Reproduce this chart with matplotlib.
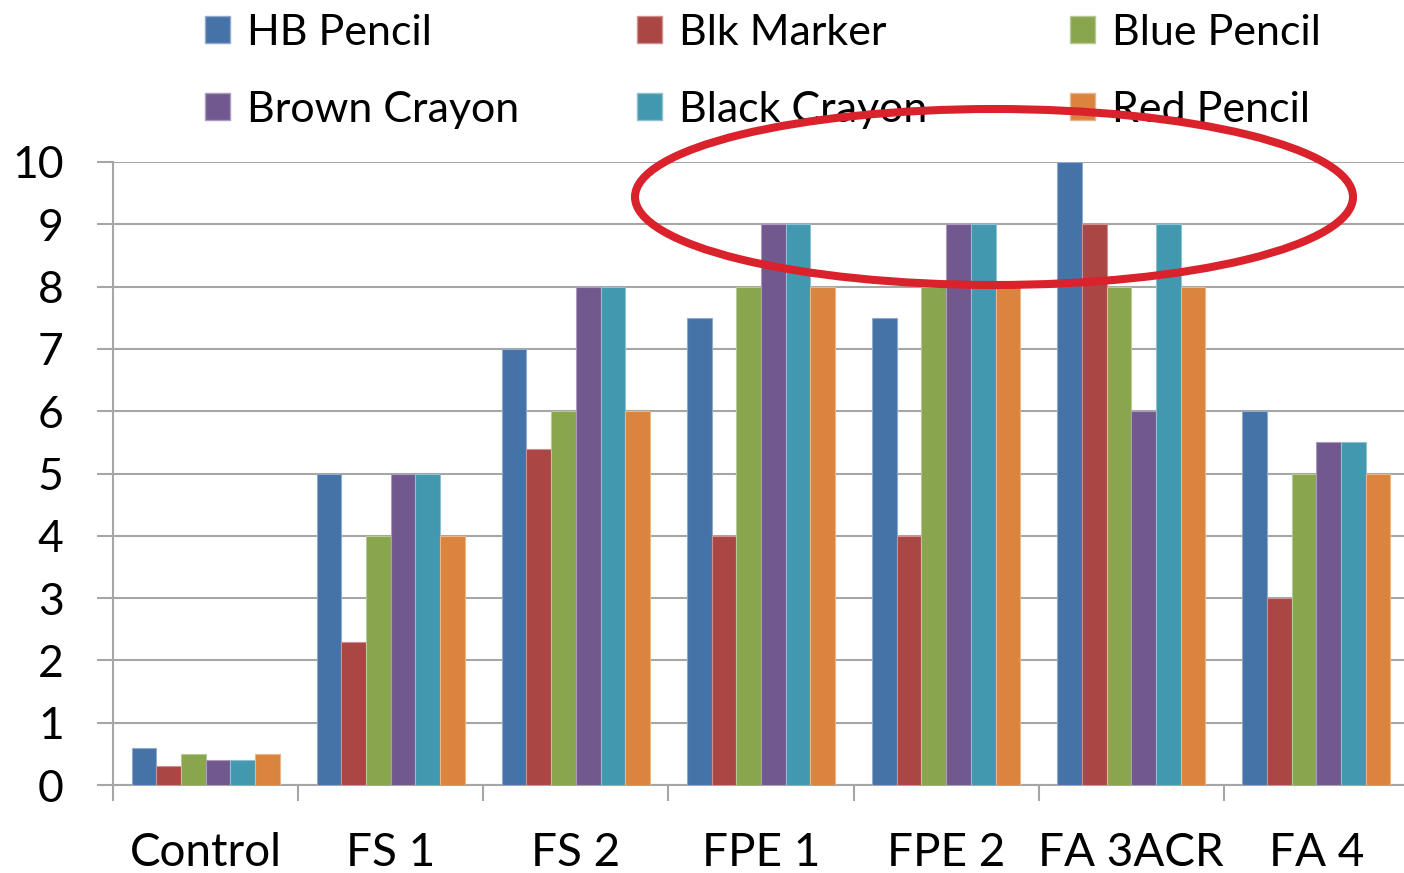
import numpy as np
import matplotlib
matplotlib.use("Agg")
import matplotlib.pyplot as plt
from matplotlib.patches import Patch, Ellipse
from matplotlib.colors import to_rgb

plt.rcParams['font.family'] = ['Lato', 'DejaVu Sans']

# data
groups = ["Control", "FS 1", "FS 2", "FPE 1", "FPE 2", "FA 3ACR", "FA 4"]
series = ["HB Pencil", "Blk Marker", "Blue Pencil",
          "Brown Crayon", "Black Crayon", "Red Pencil"]
hb_pencil = [0.6, 5, 7, 7.5, 7.5, 10, 6]
blk_marker = [0.3, 2.3, 5.4, 4, 4, 9, 3]
blue_pencil = [0.5, 4, 6, 8, 8, 8, 5]
brown_crayon = [0.4, 5, 8, 9, 9, 6, 5.5]
black_crayon = [0.4, 5, 8, 9, 9, 9, 5.5]
red_pencil = [0.5, 4, 6, 8, 8, 8, 5]
values = [hb_pencil, blk_marker, blue_pencil, brown_crayon, black_crayon, red_pencil]
colors = ["#4572a7", "#aa4643", "#89a54e", "#71588f", "#4198af", "#db843d"]

W, H = 1404, 873
fig = plt.figure(figsize=(W / 100, H / 100), dpi=100)
ax = fig.add_axes([113 / W, 88 / H, 1296 / W, 623 / H])


def lighter(c):
    return tuple(0.6 * np.array(to_rgb(c)) + 0.4)


x = np.arange(len(groups))
n = len(series)
bw = 0.8 / n
for i, (name, vals, c) in enumerate(zip(series, values, colors)):
    ax.bar(x - 0.4 + bw * (i + 0.5), vals, width=bw, color=c,
           edgecolor=lighter(c), linewidth=0.8, label=name, zorder=3)

grid_c = "#a6a6a6"
ax.set_xlim(-0.5, len(groups) - 0.5)
ax.set_ylim(0, 10)
ax.set_yticks(range(0, 11))
ax.yaxis.grid(True, color=grid_c, linewidth=1.5, zorder=0)
ax.set_axisbelow(True)
for s in ["top", "right"]:
    ax.spines[s].set_visible(False)
for s in ["left", "bottom"]:
    ax.spines[s].set_color(grid_c)
    ax.spines[s].set_linewidth(1.5)

ax.set_xticks(x)
ax.set_xticklabels(groups)
ax.set_xticks(np.arange(-0.5, len(groups)), minor=True)
ax.tick_params(axis="x", which="major", length=0, pad=34, labelsize=33)
ax.tick_params(axis="x", which="minor", length=11.5, width=1.5, color=grid_c)
ax.tick_params(axis="y", length=11.5, width=1.5, color=grid_c, pad=24, labelsize=32)

# legend, row-major like the original (one legend per column)
handles = [Patch(facecolor=c, edgecolor=lighter(c)) for c in colors]
col_x = [205, 637, 1070]
for k in range(3):
    fig.legend([handles[k], handles[k + 3]], [series[k], series[k + 3]],
               loc="upper left", bbox_to_anchor=(col_x[k] / W, 1 - 14 / H),
               frameon=False, fontsize=31, ncol=1, handlelength=0.58,
               handleheight=0.58, handletextpad=0.4, labelspacing=0.9,
               borderpad=0, borderaxespad=0)

# red highlight ellipse
ell = Ellipse((994 / W, 1 - 197 / H), 718 / W, 176 / H, transform=fig.transFigure,
              fill=False, edgecolor="#d9222b", linewidth=5.8, zorder=10)
fig.add_artist(ell)

fig.savefig("out.png", dpi=100)
